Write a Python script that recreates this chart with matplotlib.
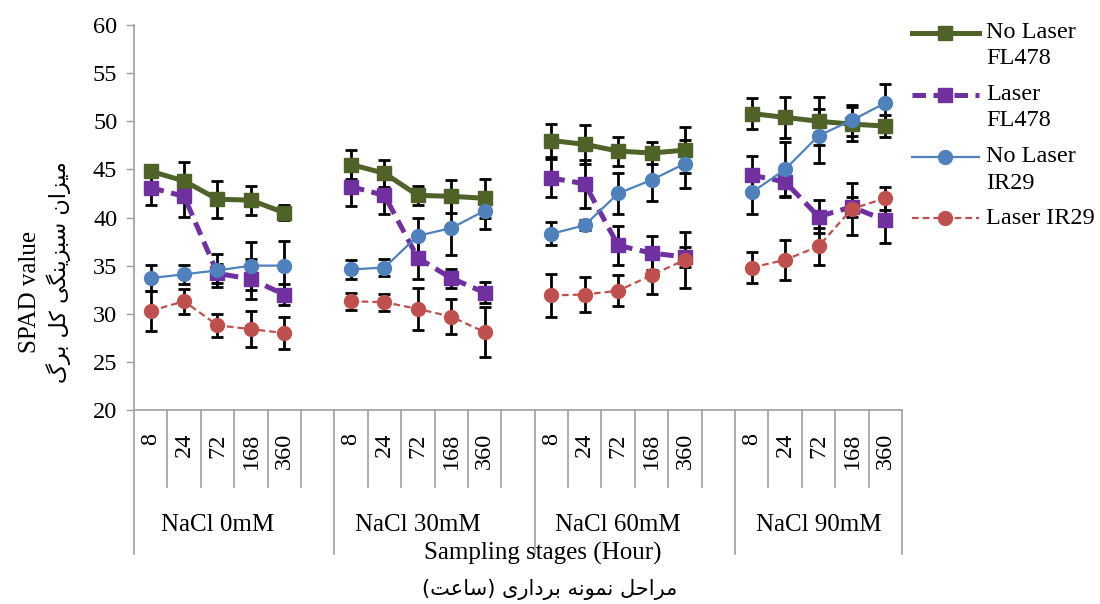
import matplotlib
matplotlib.use('Agg')
import matplotlib.pyplot as plt
from matplotlib.lines import Line2D
import numpy as np

# ---------------- data ----------------
salt_levels = ['NaCl 0mM', 'NaCl 30mM', 'NaCl 60mM', 'NaCl 90mM']
hours = ['8', '24', '72', '168', '360']

series_names = ['No Laser\nFL478', 'Laser\nFL478', 'No Laser\nIR29', 'Laser IR29']

nolaser_fl478 = [44.8, 43.8, 41.9, 41.8, 40.5,
                 45.5, 44.6, 42.3, 42.2, 42.0,
                 48.0, 47.6, 46.9, 46.7, 47.0,
                 50.8, 50.4, 50.0, 49.7, 49.5]
nolaser_fl478_err = [0.5, 2.0, 1.9, 1.5, 0.8,
                     1.5, 1.4, 1.0, 1.7, 2.0,
                     1.7, 2.0, 1.5, 1.1, 2.4,
                     1.6, 2.1, 2.5, 1.8, 1.1]

laser_fl478 = [43.1, 42.2, 34.2, 33.6, 32.0,
               43.2, 42.3, 35.8, 33.7, 32.2,
               44.1, 43.5, 37.1, 36.3, 35.9,
               44.4, 43.7, 40.1, 41.1, 39.7]
laser_fl478_err = [1.8, 2.1, 1.0, 2.1, 1.1,
                   2.0, 1.9, 2.2, 1.0, 1.1,
                   2.0, 2.5, 2.0, 1.8, 1.0,
                   2.0, 1.6, 1.7, 1.0, 2.4]

nolaser_ir29 = [33.7, 34.1, 34.5, 35.0, 35.0,
                34.6, 34.8, 38.1, 38.9, 40.7,
                38.3, 39.2, 42.5, 43.9, 45.6,
                42.6, 45.0, 48.5, 50.1, 51.9]
nolaser_ir29_err = [1.35, 1.0, 1.7, 2.5, 2.6,
                    0.95, 0.9, 1.9, 2.8, 1.9,
                    1.2, 0.5, 2.1, 2.2, 2.5,
                    2.2, 2.8, 2.8, 1.6, 2.0]

laser_ir29 = [30.3, 31.3, 28.8, 28.4, 28.0,
              31.3, 31.2, 30.5, 29.7, 28.1,
              31.9, 32.0, 32.4, 34.0, 35.6,
              34.8, 35.6, 37.0, 40.9, 42.0]
laser_ir29_err = [2.1, 1.3, 1.2, 1.9, 1.7,
                  0.9, 0.9, 2.2, 1.8, 2.6,
                  2.2, 1.8, 1.6, 1.9, 2.9,
                  1.6, 2.1, 1.9, 2.7, 1.2]

yticks = [20, 25, 30, 35, 40, 45, 50, 55, 60]

# Persian labels written in visual (shaped) presentation forms, left-to-right
ylabel_fa = ('\uFB92\uFEAE\uFE91' + ' ' + '\uFEDE\uFB90' + ' ' +
             '\uFBFD\uFB95\uFEE8\uFBFE\uFEB0\uFE92\uFEB3' + ' ' +
             '\uFEE5\uFE8D\uFEB0\uFBFF\uFEE3')
xlabel_fa = ('(' + '\uFE96\uFECB\uFE8E\uFEB3' + ')' + ' ' +
             '\uFBFC\uFEAD\uFE8D\uFEA9\uFEAE\uFE91' + ' ' +
             '\uFEEA\uFEE7\uFEEE\uFEE4\uFEE7' + ' ' +
             '\uFEDE\uFEA3\uFE8D\uFEAE\uFEE3')

# ---------------- style ----------------
serif = ['Liberation Serif', 'DejaVu Serif']
styles = [
    dict(color='#4F6228', ls='-', lw=3.6, marker='s', ms=9.5, dashes=None),
    dict(color='#7030A0', ls='--', lw=3.6, marker='s', ms=9.5, dashes=(2.7, 1.5)),
    dict(color='#4F81BD', ls='-', lw=1.6, marker='o', ms=10, dashes=None),
    dict(color='#C0504D', ls='--', lw=1.6, marker='o', ms=10, dashes=(3.0, 1.8)),
]
values = [nolaser_fl478, laser_fl478, nolaser_ir29, laser_ir29]
errors = [nolaser_fl478_err, laser_fl478_err, nolaser_ir29_err, laser_ir29_err]

W, H = 1100, 604
fig = plt.figure(figsize=(W / 100, H / 100), dpi=100)
ax = fig.add_axes([134 / W, (H - 410) / H, 768 / W, 385 / H])

ngroups = len(salt_levels)
nh = len(hours)
step = nh + 1  # blank category between groups
ncat = ngroups * step - 1

for s, (vals, errs, st) in enumerate(zip(values, errors, styles)):
    for g in range(ngroups):
        xs = np.arange(nh) + g * step
        v = np.array(vals[g * nh:(g + 1) * nh])
        e = np.array(errs[g * nh:(g + 1) * nh])
        ax.errorbar(xs, v, yerr=e, fmt='none', ecolor='black', elinewidth=2.0,
                    capsize=4, capthick=2.0, zorder=2)
        kw = dict(color=st['color'], lw=st['lw'], marker=st['marker'],
                  ms=st['ms'], mec=st['color'], mfc=st['color'], zorder=3 + s * 0.1,
                  solid_capstyle='round', dash_capstyle='butt')
        line, = ax.plot(xs, v, ls=st['ls'], **kw)
        if st['dashes'] is not None:
            line.set_dashes(st['dashes'])

ax.set_xlim(-0.5, ncat - 0.5)
ax.set_ylim(20, 60)
ax.set_yticks(yticks)
ax.set_yticklabels([str(t) for t in yticks], fontfamily=serif, fontsize=17.5)
ax.tick_params(axis='y', direction='out', length=6, width=1, color='#A0A0A0', pad=6)
ax.set_xticks([])
for sp in ['top', 'right']:
    ax.spines[sp].set_visible(False)
for sp in ['left', 'bottom']:
    ax.spines[sp].set_color('#A0A0A0')
    ax.spines[sp].set_linewidth(1.2)

# ---------------- multi-level category axis ----------------
ah = 385.0
short_end = -(487 - 410) / ah
long_end = -(554 - 410) / ah
trans = ax.get_xaxis_transform()
for b in np.arange(-0.5, ncat, 1.0):
    is_long = (abs(((b + 0.5) % step)) < 1e-9) or abs(b - (ncat - 0.5)) < 1e-9
    y1 = long_end if is_long else short_end
    ax.plot([b, b], [0, y1], transform=trans, color='#A0A0A0', lw=1.2,
            clip_on=False, zorder=1)

for g in range(ngroups):
    for h, lab in enumerate(hours):
        ax.text(g * step + h, -(433 - 410) / ah, lab, transform=trans, rotation=90,
                ha='center', va='top', fontfamily=serif, fontsize=17.5)
    ax.text(g * step + (nh - 1) / 2, -(525 - 410) / ah, salt_levels[g], transform=trans,
            ha='center', va='center', fontfamily=serif, fontsize=18)

# ---------------- axis titles ----------------
fig.text(543 / W, 1 - 553 / H, 'Sampling stages (Hour)', ha='center', va='center',
         fontfamily=serif, fontsize=18)
fig.text(550 / W, 1 - 590 / H, xlabel_fa, ha='center', va='center',
         fontfamily=['DejaVu Sans'], fontsize=15)
fig.text(30 / W, 1 - 292 / H, 'SPAD value', ha='center', va='center', rotation=90,
         fontfamily=serif, fontsize=18)
fig.text(59 / W, 1 - 272 / H, ylabel_fa, ha='center', va='center', rotation=90,
         fontfamily=['DejaVu Sans'], fontsize=16)

# ---------------- legend (right side, handle on first text line) ----------------
leg_rows = [(33, 59), (95, 121), (157, 183), (218,)]
for name, st, rows in zip(series_names, styles, leg_rows):
    yline = 1 - rows[0] / H
    ln = Line2D([912 / W, 979 / W], [yline, yline], transform=fig.transFigure,
                color=st['color'], lw=st['lw'], ls=st['ls'])
    if st['dashes'] is not None:
        ln.set_dashes(st['dashes'])
    fig.add_artist(ln)
    mk = Line2D([945 / W], [yline], transform=fig.transFigure, ls='none',
                marker=st['marker'], ms=st['ms'], mfc=st['color'], mec=st['color'])
    fig.add_artist(mk)
    for txt, yy in zip(name.split('\n'), rows):
        fig.text(986 / W, 1 - yy / H, txt, ha='left', va='center',
                 fontfamily=serif, fontsize=17.5)

fig.savefig('out.png', dpi=100)
